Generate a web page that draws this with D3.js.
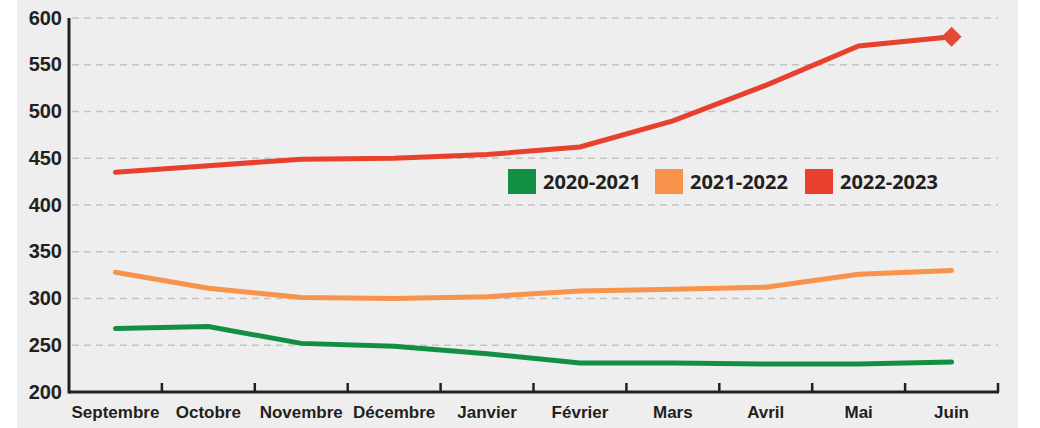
<!DOCTYPE html>
<html>
<head>
<meta charset="utf-8">
<script src="https://cdn.jsdelivr.net/npm/d3@7"></script>
<style>
  body { margin: 0; background: #fff; }
  .tick-label { font-family: "Liberation Sans Narrow", "Liberation Sans", sans-serif; font-weight: bold; fill: #231f20; }
  .legend-text { font-family: "Open Sans", "Noto Sans", sans-serif; font-weight: bold; fill: #231f20; font-size: 20px; }
</style>
</head>
<body>
<svg class="chart" width="1040" height="428"></svg>
<script>
var months = ['Septembre', 'Octobre', 'Novembre', 'Décembre', 'Janvier', 'Février', 'Mars', 'Avril', 'Mai', 'Juin'];
var seriesNames = ['2020-2021', '2021-2022', '2022-2023'];
var s2020 = [268, 270, 252, 249, 241, 231, 231, 230, 230, 232];
var s2021 = [328, 311, 301, 300, 302, 308, 310, 312, 326, 330];
var s2022 = [435, 442, 449, 450, 454, 462, 490, 528, 570, 580];
var yTicks = [200, 250, 300, 350, 400, 450, 500, 550, 600];
var colors = ['#138f44', '#f7934a', '#e8402d'];

var p = {};
  p.left = 69;
  p.right = 998;
  p.top = 18;
  p.bottom = 392;

var svg = d3.select('.chart');

svg.append('rect')
  .attr('x', 17).attr('y', 0)
  .attr('width', 1001).attr('height', 428)
  .attr('fill', '#eeeeee');

var x = d3.scaleBand().domain(months).range([p.left, p.right]).padding(0);
var y = d3.scaleLinear().domain([200, 600]).range([p.bottom, p.top]);

//-----  Grid  -----//
svg.append('g').selectAll('line')
  .data(yTicks.filter(function(t) { return t > 200; }))
  .enter().append('line')
    .attr('x1', p.left + 3).attr('x2', p.right)
    .attr('y1', function(d) { return y(d); })
    .attr('y2', function(d) { return y(d); })
    .attr('stroke', '#c4c4c4')
    .attr('stroke-width', 1.5)
    .attr('stroke-dasharray', '7,5');

//-----  Y labels  -----//
svg.append('g').selectAll('text')
  .data(yTicks)
  .enter().append('text')
    .attr('class', 'tick-label')
    .attr('x', 62)
    .attr('y', function(d) { return y(d) + 6.5; })
    .attr('text-anchor', 'end')
    .attr('font-size', 20)
    .text(function(d) { return d; });

//-----  Axes  -----//
svg.append('line')
  .attr('x1', p.left).attr('x2', p.left)
  .attr('y1', p.top).attr('y2', p.bottom + 1.5)
  .attr('stroke', '#231f20').attr('stroke-width', 3);
svg.append('line')
  .attr('x1', p.left).attr('x2', p.right + 1)
  .attr('y1', p.bottom).attr('y2', p.bottom)
  .attr('stroke', '#231f20').attr('stroke-width', 3);
svg.append('g').selectAll('line')
  .data(months)
  .enter().append('line')
    .attr('x1', function(d) { return x(d) + x.bandwidth(); })
    .attr('x2', function(d) { return x(d) + x.bandwidth(); })
    .attr('y1', p.bottom - 9).attr('y2', p.bottom)
    .attr('stroke', '#231f20').attr('stroke-width', 2.5);
svg.append('g').selectAll('text')
  .data(months)
  .enter().append('text')
    .attr('class', 'tick-label')
    .attr('x', function(d) { return x(d) + x.bandwidth() / 2; })
    .attr('y', 418)
    .attr('text-anchor', 'middle')
    .attr('font-size', 17)
    .text(function(d) { return d; });

//-----  Lines  -----//
var line = d3.line()
  .x(function(d, i) { return x(months[i]) + x.bandwidth() / 2; })
  .y(function(d) { return y(d); });
[s2020, s2021, s2022].forEach(function(s, i) {
  svg.append('path')
    .datum(s)
    .attr('d', line)
    .attr('fill', 'none')
    .attr('stroke', colors[i])
    .attr('stroke-width', 5)
    .attr('stroke-linecap', 'round')
    .attr('stroke-linejoin', 'miter');
});

var last = s2022.length - 1;
svg.append('path')
  .attr('d', d3.symbol().type(d3.symbolSquare).size(200))
  .attr('transform', 'translate(' + (x(months[last]) + x.bandwidth() / 2) + ',' + y(s2022[last]) + ') rotate(45)')
  .attr('fill', '#e34a33');

//-----  Legend  -----//
var legendX = [508, 655, 805];
var legend = svg.append('g');
seriesNames.forEach(function(n, i) {
  var g = legend.append('g').attr('transform', 'translate(' + legendX[i] + ',169)');
  g.append('rect').attr('width', 28).attr('height', 25).attr('fill', colors[i]);
  g.append('text').attr('class', 'legend-text').attr('x', 35).attr('y', 20).text(n);
});
</script>
</body>
</html>
